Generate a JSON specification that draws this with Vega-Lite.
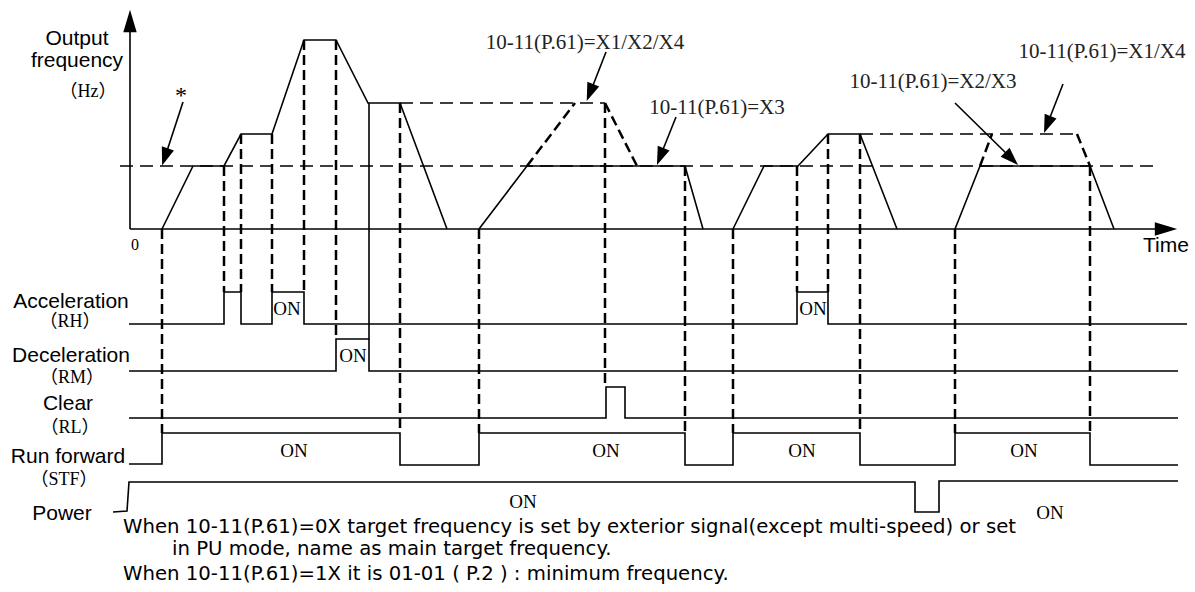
{
  "$schema": "https://vega.github.io/schema/vega-lite/v6.json",
  "width": 1195,
  "height": 592,
  "autosize": {"type": "fit", "contains": "padding"},
  "padding": 0,
  "background": "white",
  "config": {"view": {"stroke": null}},
  "datasets": {
    "solid": [
      {"seg": "yaxis", "o": 1, "t": 130, "v": 229}, {"seg": "yaxis", "o": 2, "t": 130, "v": 28},
      {"seg": "taxis", "o": 1, "t": 130, "v": 229}, {"seg": "taxis", "o": 2, "t": 1160, "v": 229},
      {"seg": "f1", "o": 1, "t": 162, "v": 229}, {"seg": "f1", "o": 2, "t": 193, "v": 166}, {"seg": "f1", "o": 3, "t": 224, "v": 166}, {"seg": "f1", "o": 4, "t": 241, "v": 134}, {"seg": "f1", "o": 5, "t": 272, "v": 134}, {"seg": "f1", "o": 6, "t": 304, "v": 40}, {"seg": "f1", "o": 7, "t": 336, "v": 40}, {"seg": "f1", "o": 8, "t": 368, "v": 103}, {"seg": "f1", "o": 9, "t": 400, "v": 103}, {"seg": "f1", "o": 10, "t": 447, "v": 229},
      {"seg": "v368", "o": 1, "t": 369, "v": 103}, {"seg": "v368", "o": 2, "t": 369, "v": 339},
      {"seg": "f2", "o": 1, "t": 479, "v": 229}, {"seg": "f2", "o": 2, "t": 527, "v": 166}, {"seg": "f2", "o": 3, "t": 685, "v": 166}, {"seg": "f2", "o": 4, "t": 703, "v": 229},
      {"seg": "f3", "o": 1, "t": 733, "v": 229}, {"seg": "f3", "o": 2, "t": 764, "v": 166}, {"seg": "f3", "o": 3, "t": 798, "v": 166}, {"seg": "f3", "o": 4, "t": 828, "v": 134}, {"seg": "f3", "o": 5, "t": 860, "v": 134}, {"seg": "f3", "o": 6, "t": 897, "v": 229},
      {"seg": "f4", "o": 1, "t": 955, "v": 229}, {"seg": "f4", "o": 2, "t": 980, "v": 166}, {"seg": "f4", "o": 3, "t": 1090, "v": 166}, {"seg": "f4", "o": 4, "t": 1114, "v": 229},
      {"seg": "rh", "o": 1, "t": 129, "v": 324}, {"seg": "rh", "o": 2, "t": 224, "v": 324}, {"seg": "rh", "o": 3, "t": 224, "v": 292}, {"seg": "rh", "o": 4, "t": 241, "v": 292}, {"seg": "rh", "o": 5, "t": 241, "v": 324}, {"seg": "rh", "o": 6, "t": 272, "v": 324}, {"seg": "rh", "o": 7, "t": 272, "v": 292}, {"seg": "rh", "o": 8, "t": 304, "v": 292}, {"seg": "rh", "o": 9, "t": 304, "v": 324}, {"seg": "rh", "o": 10, "t": 797, "v": 324}, {"seg": "rh", "o": 11, "t": 797, "v": 292}, {"seg": "rh", "o": 12, "t": 828, "v": 292}, {"seg": "rh", "o": 13, "t": 828, "v": 324}, {"seg": "rh", "o": 14, "t": 1187, "v": 324},
      {"seg": "rm", "o": 1, "t": 129, "v": 371}, {"seg": "rm", "o": 2, "t": 336, "v": 371}, {"seg": "rm", "o": 3, "t": 336, "v": 339}, {"seg": "rm", "o": 4, "t": 369, "v": 339}, {"seg": "rm", "o": 5, "t": 369, "v": 371}, {"seg": "rm", "o": 6, "t": 1178, "v": 371},
      {"seg": "rl", "o": 1, "t": 129, "v": 418}, {"seg": "rl", "o": 2, "t": 606, "v": 418}, {"seg": "rl", "o": 3, "t": 606, "v": 387}, {"seg": "rl", "o": 4, "t": 625, "v": 387}, {"seg": "rl", "o": 5, "t": 625, "v": 418}, {"seg": "rl", "o": 6, "t": 1178, "v": 418},
      {"seg": "stf", "o": 1, "t": 129, "v": 464}, {"seg": "stf", "o": 2, "t": 162, "v": 464}, {"seg": "stf", "o": 3, "t": 162, "v": 433}, {"seg": "stf", "o": 4, "t": 400, "v": 433}, {"seg": "stf", "o": 5, "t": 400, "v": 465}, {"seg": "stf", "o": 6, "t": 479, "v": 465}, {"seg": "stf", "o": 7, "t": 479, "v": 433}, {"seg": "stf", "o": 8, "t": 685, "v": 433}, {"seg": "stf", "o": 9, "t": 685, "v": 465}, {"seg": "stf", "o": 10, "t": 733, "v": 465}, {"seg": "stf", "o": 11, "t": 733, "v": 433}, {"seg": "stf", "o": 12, "t": 860, "v": 433}, {"seg": "stf", "o": 13, "t": 860, "v": 465}, {"seg": "stf", "o": 14, "t": 955, "v": 465}, {"seg": "stf", "o": 15, "t": 955, "v": 433}, {"seg": "stf", "o": 16, "t": 1090, "v": 433}, {"seg": "stf", "o": 17, "t": 1090, "v": 465}, {"seg": "stf", "o": 18, "t": 1178, "v": 465},
      {"seg": "pw", "o": 1, "t": 113, "v": 512}, {"seg": "pw", "o": 2, "t": 127, "v": 511}, {"seg": "pw", "o": 3, "t": 129, "v": 482}, {"seg": "pw", "o": 4, "t": 915, "v": 482}, {"seg": "pw", "o": 5, "t": 915, "v": 512}, {"seg": "pw", "o": 6, "t": 939, "v": 512}, {"seg": "pw", "o": 7, "t": 939, "v": 481}, {"seg": "pw", "o": 8, "t": 1178, "v": 481},
      {"seg": "a1", "o": 1, "t": 183, "v": 102}, {"seg": "a1", "o": 2, "t": 165, "v": 157},
      {"seg": "a2", "o": 1, "t": 606, "v": 52}, {"seg": "a2", "o": 2, "t": 590, "v": 93},
      {"seg": "a3", "o": 1, "t": 676, "v": 117}, {"seg": "a3", "o": 2, "t": 660, "v": 157},
      {"seg": "a4", "o": 1, "t": 955, "v": 103}, {"seg": "a4", "o": 2, "t": 1012, "v": 159},
      {"seg": "a5", "o": 1, "t": 1063, "v": 84}, {"seg": "a5", "o": 2, "t": 1047, "v": 125}
    ],
    "dashThick": [
      {"seg": "d162", "o": 1, "t": 162, "v": 229}, {"seg": "d162", "o": 2, "t": 162, "v": 433},
      {"seg": "d224", "o": 1, "t": 224, "v": 166}, {"seg": "d224", "o": 2, "t": 224, "v": 292},
      {"seg": "d241", "o": 1, "t": 241, "v": 134}, {"seg": "d241", "o": 2, "t": 241, "v": 292},
      {"seg": "d272", "o": 1, "t": 272, "v": 134}, {"seg": "d272", "o": 2, "t": 272, "v": 292},
      {"seg": "d304", "o": 1, "t": 304, "v": 40}, {"seg": "d304", "o": 2, "t": 304, "v": 292},
      {"seg": "d336", "o": 1, "t": 336, "v": 40}, {"seg": "d336", "o": 2, "t": 336, "v": 339},
      {"seg": "d400", "o": 1, "t": 400, "v": 103}, {"seg": "d400", "o": 2, "t": 400, "v": 433},
      {"seg": "d479", "o": 1, "t": 479, "v": 229}, {"seg": "d479", "o": 2, "t": 479, "v": 433},
      {"seg": "d605", "o": 1, "t": 605, "v": 103}, {"seg": "d605", "o": 2, "t": 605, "v": 387},
      {"seg": "d685", "o": 1, "t": 685, "v": 166}, {"seg": "d685", "o": 2, "t": 685, "v": 433},
      {"seg": "d733", "o": 1, "t": 733, "v": 229}, {"seg": "d733", "o": 2, "t": 733, "v": 433},
      {"seg": "d797", "o": 1, "t": 797, "v": 166}, {"seg": "d797", "o": 2, "t": 797, "v": 292},
      {"seg": "d828", "o": 1, "t": 828, "v": 134}, {"seg": "d828", "o": 2, "t": 828, "v": 292},
      {"seg": "d860", "o": 1, "t": 860, "v": 134}, {"seg": "d860", "o": 2, "t": 860, "v": 433},
      {"seg": "d955", "o": 1, "t": 955, "v": 229}, {"seg": "d955", "o": 2, "t": 955, "v": 433},
      {"seg": "d1090", "o": 1, "t": 1090, "v": 166}, {"seg": "d1090", "o": 2, "t": 1090, "v": 433},
      {"seg": "r1", "o": 1, "t": 527, "v": 166}, {"seg": "r1", "o": 2, "t": 575, "v": 103},
      {"seg": "r2", "o": 1, "t": 605, "v": 103}, {"seg": "r2", "o": 2, "t": 637, "v": 166},
      {"seg": "r3", "o": 1, "t": 980, "v": 166}, {"seg": "r3", "o": 2, "t": 992, "v": 134},
      {"seg": "r4", "o": 1, "t": 1077, "v": 134}, {"seg": "r4", "o": 2, "t": 1090, "v": 166}
    ],
    "dashThin": [
      {"seg": "h166", "o": 1, "t": 120, "v": 166}, {"seg": "h166", "o": 2, "t": 1158, "v": 166},
      {"seg": "h103", "o": 1, "t": 400, "v": 103}, {"seg": "h103", "o": 2, "t": 605, "v": 103},
      {"seg": "h134", "o": 1, "t": 860, "v": 134}, {"seg": "h134", "o": 2, "t": 1077, "v": 134}
    ],
    "heads": [
      {"kind": "axis", "t": 130, "v": 21, "dir": 0},
      {"kind": "axis", "t": 1166, "v": 229, "dir": 90},
      {"kind": "ann", "t": 165, "v": 157, "dir": 198.4},
      {"kind": "ann", "t": 590, "v": 92.6, "dir": 201.2},
      {"kind": "ann", "t": 660.3, "v": 156.6, "dir": 201.6},
      {"kind": "ann", "t": 1011.6, "v": 158.7, "dir": 134.5},
      {"kind": "ann", "t": 1047.3, "v": 124.6, "dir": 201.2}
    ],
    "texts": [
      {"kind": "lab", "t": 77, "v": 45, "s": "Output"},
      {"kind": "lab", "t": 77, "v": 67, "s": "frequency"},
      {"kind": "lab", "t": 71, "v": 308, "s": "Acceleration"},
      {"kind": "lab", "t": 71, "v": 362, "s": "Deceleration"},
      {"kind": "lab", "t": 68, "v": 410, "s": "Clear"},
      {"kind": "lab", "t": 68, "v": 463, "s": "Run forward"},
      {"kind": "lab", "t": 62, "v": 520, "s": "Power"},
      {"kind": "lab", "t": 1166, "v": 252, "s": "Time"},
      {"kind": "par", "t": 88, "v": 97, "s": "（Hz）"},
      {"kind": "par", "t": 70, "v": 327, "s": "（RH）"},
      {"kind": "par", "t": 72, "v": 383, "s": "（RM）"},
      {"kind": "par", "t": 70, "v": 433, "s": "（RL）"},
      {"kind": "par", "t": 64, "v": 485, "s": "（STF）"},
      {"kind": "zero", "t": 135, "v": 250, "s": "0"},
      {"kind": "star", "t": 181, "v": 103, "s": "*"},
      {"kind": "on", "t": 287, "v": 315, "s": "ON"},
      {"kind": "on", "t": 813, "v": 315, "s": "ON"},
      {"kind": "on", "t": 353, "v": 362, "s": "ON"},
      {"kind": "on", "t": 294, "v": 457, "s": "ON"},
      {"kind": "on", "t": 606, "v": 457, "s": "ON"},
      {"kind": "on", "t": 802, "v": 457, "s": "ON"},
      {"kind": "on", "t": 1024, "v": 457, "s": "ON"},
      {"kind": "on", "t": 523, "v": 508, "s": "ON"},
      {"kind": "on", "t": 1050, "v": 519, "s": "ON"},
      {"kind": "ann", "t": 585, "v": 49, "s": "10-11(P.61)=X1/X2/X4"},
      {"kind": "ann", "t": 717, "v": 114, "s": "10-11(P.61)=X3"},
      {"kind": "ann", "t": 933, "v": 88, "s": "10-11(P.61)=X2/X3"},
      {"kind": "ann", "t": 1102, "v": 58, "s": "10-11(P.61)=X1/X4"},
      {"kind": "note", "t": 123, "v": 533, "s": "When 10-11(P.61)=0X target frequency is set by exterior signal(except multi-speed) or set"},
      {"kind": "note", "t": 172, "v": 555, "s": "in PU mode, name as main target frequency."},
      {"kind": "note", "t": 123, "v": 580, "s": "When 10-11(P.61)=1X it is 01-01 ( P.2 ) : minimum frequency."}
    ]
  },
  "encoding": {
    "x": {"field": "t", "type": "quantitative", "scale": {"domain": [0, 1195], "nice": false, "zero": false}, "axis": null},
    "y": {"field": "v", "type": "quantitative", "scale": {"domain": [0, 592], "nice": false, "zero": false, "reverse": true}, "axis": null}
  },
  "layer": [
    {
      "data": {"name": "dashThin"},
      "mark": {"type": "line", "color": "black", "strokeWidth": 1.5, "strokeDash": [13, 7]},
      "encoding": {"detail": {"field": "seg"}, "order": {"field": "o"}}
    },
    {
      "data": {"name": "dashThick"},
      "mark": {"type": "line", "color": "black", "strokeWidth": 2.5, "strokeDash": [10, 5]},
      "encoding": {"detail": {"field": "seg"}, "order": {"field": "o"}}
    },
    {
      "data": {"name": "solid"},
      "mark": {"type": "line", "color": "black", "strokeWidth": 1.6},
      "encoding": {"detail": {"field": "seg"}, "order": {"field": "o"}}
    },
    {
      "data": {"name": "heads"},
      "transform": [{"filter": "datum.kind == 'axis'"}],
      "mark": {"type": "point", "shape": "M0,-1L0.6,1L-0.6,1Z", "filled": true, "color": "black", "opacity": 1, "size": 500},
      "encoding": {"angle": {"field": "dir", "type": "quantitative", "scale": null}}
    },
    {
      "data": {"name": "heads"},
      "transform": [{"filter": "datum.kind == 'ann'"}],
      "mark": {"type": "point", "shape": "M0,-1L0.7,1L-0.7,1Z", "filled": true, "color": "black", "opacity": 1, "size": 330},
      "encoding": {"angle": {"field": "dir", "type": "quantitative", "scale": null}}
    },
    {
      "data": {"name": "texts"},
      "transform": [{"filter": "datum.kind == 'lab'"}],
      "mark": {"type": "text", "font": "Liberation Sans", "fontSize": 21, "align": "center", "baseline": "alphabetic", "color": "black"},
      "encoding": {"text": {"field": "s"}}
    },
    {
      "data": {"name": "texts"},
      "transform": [{"filter": "datum.kind == 'par'"}],
      "mark": {"type": "text", "font": "'Liberation Serif', 'Noto Sans CJK SC'", "fontSize": 18, "align": "center", "baseline": "alphabetic", "color": "black"},
      "encoding": {"text": {"field": "s"}}
    },
    {
      "data": {"name": "texts"},
      "transform": [{"filter": "datum.kind == 'zero'"}],
      "mark": {"type": "text", "font": "Liberation Serif", "fontSize": 16, "align": "center", "baseline": "alphabetic", "color": "black"},
      "encoding": {"text": {"field": "s"}}
    },
    {
      "data": {"name": "texts"},
      "transform": [{"filter": "datum.kind == 'star'"}],
      "mark": {"type": "text", "font": "Liberation Serif", "fontSize": 24, "align": "center", "baseline": "alphabetic", "color": "black"},
      "encoding": {"text": {"field": "s"}}
    },
    {
      "data": {"name": "texts"},
      "transform": [{"filter": "datum.kind == 'on'"}],
      "mark": {"type": "text", "font": "Liberation Serif", "fontSize": 19, "align": "center", "baseline": "alphabetic", "color": "black"},
      "encoding": {"text": {"field": "s"}}
    },
    {
      "data": {"name": "texts"},
      "transform": [{"filter": "datum.kind == 'ann'"}],
      "mark": {"type": "text", "font": "Liberation Serif", "fontSize": 21, "align": "center", "baseline": "alphabetic", "color": "#222222"},
      "encoding": {"text": {"field": "s"}}
    },
    {
      "data": {"name": "texts"},
      "transform": [{"filter": "datum.kind == 'note'"}],
      "mark": {"type": "text", "font": "DejaVu Sans", "fontSize": 19.7, "align": "left", "baseline": "alphabetic", "color": "black"},
      "encoding": {"text": {"field": "s"}}
    }
  ]
}
